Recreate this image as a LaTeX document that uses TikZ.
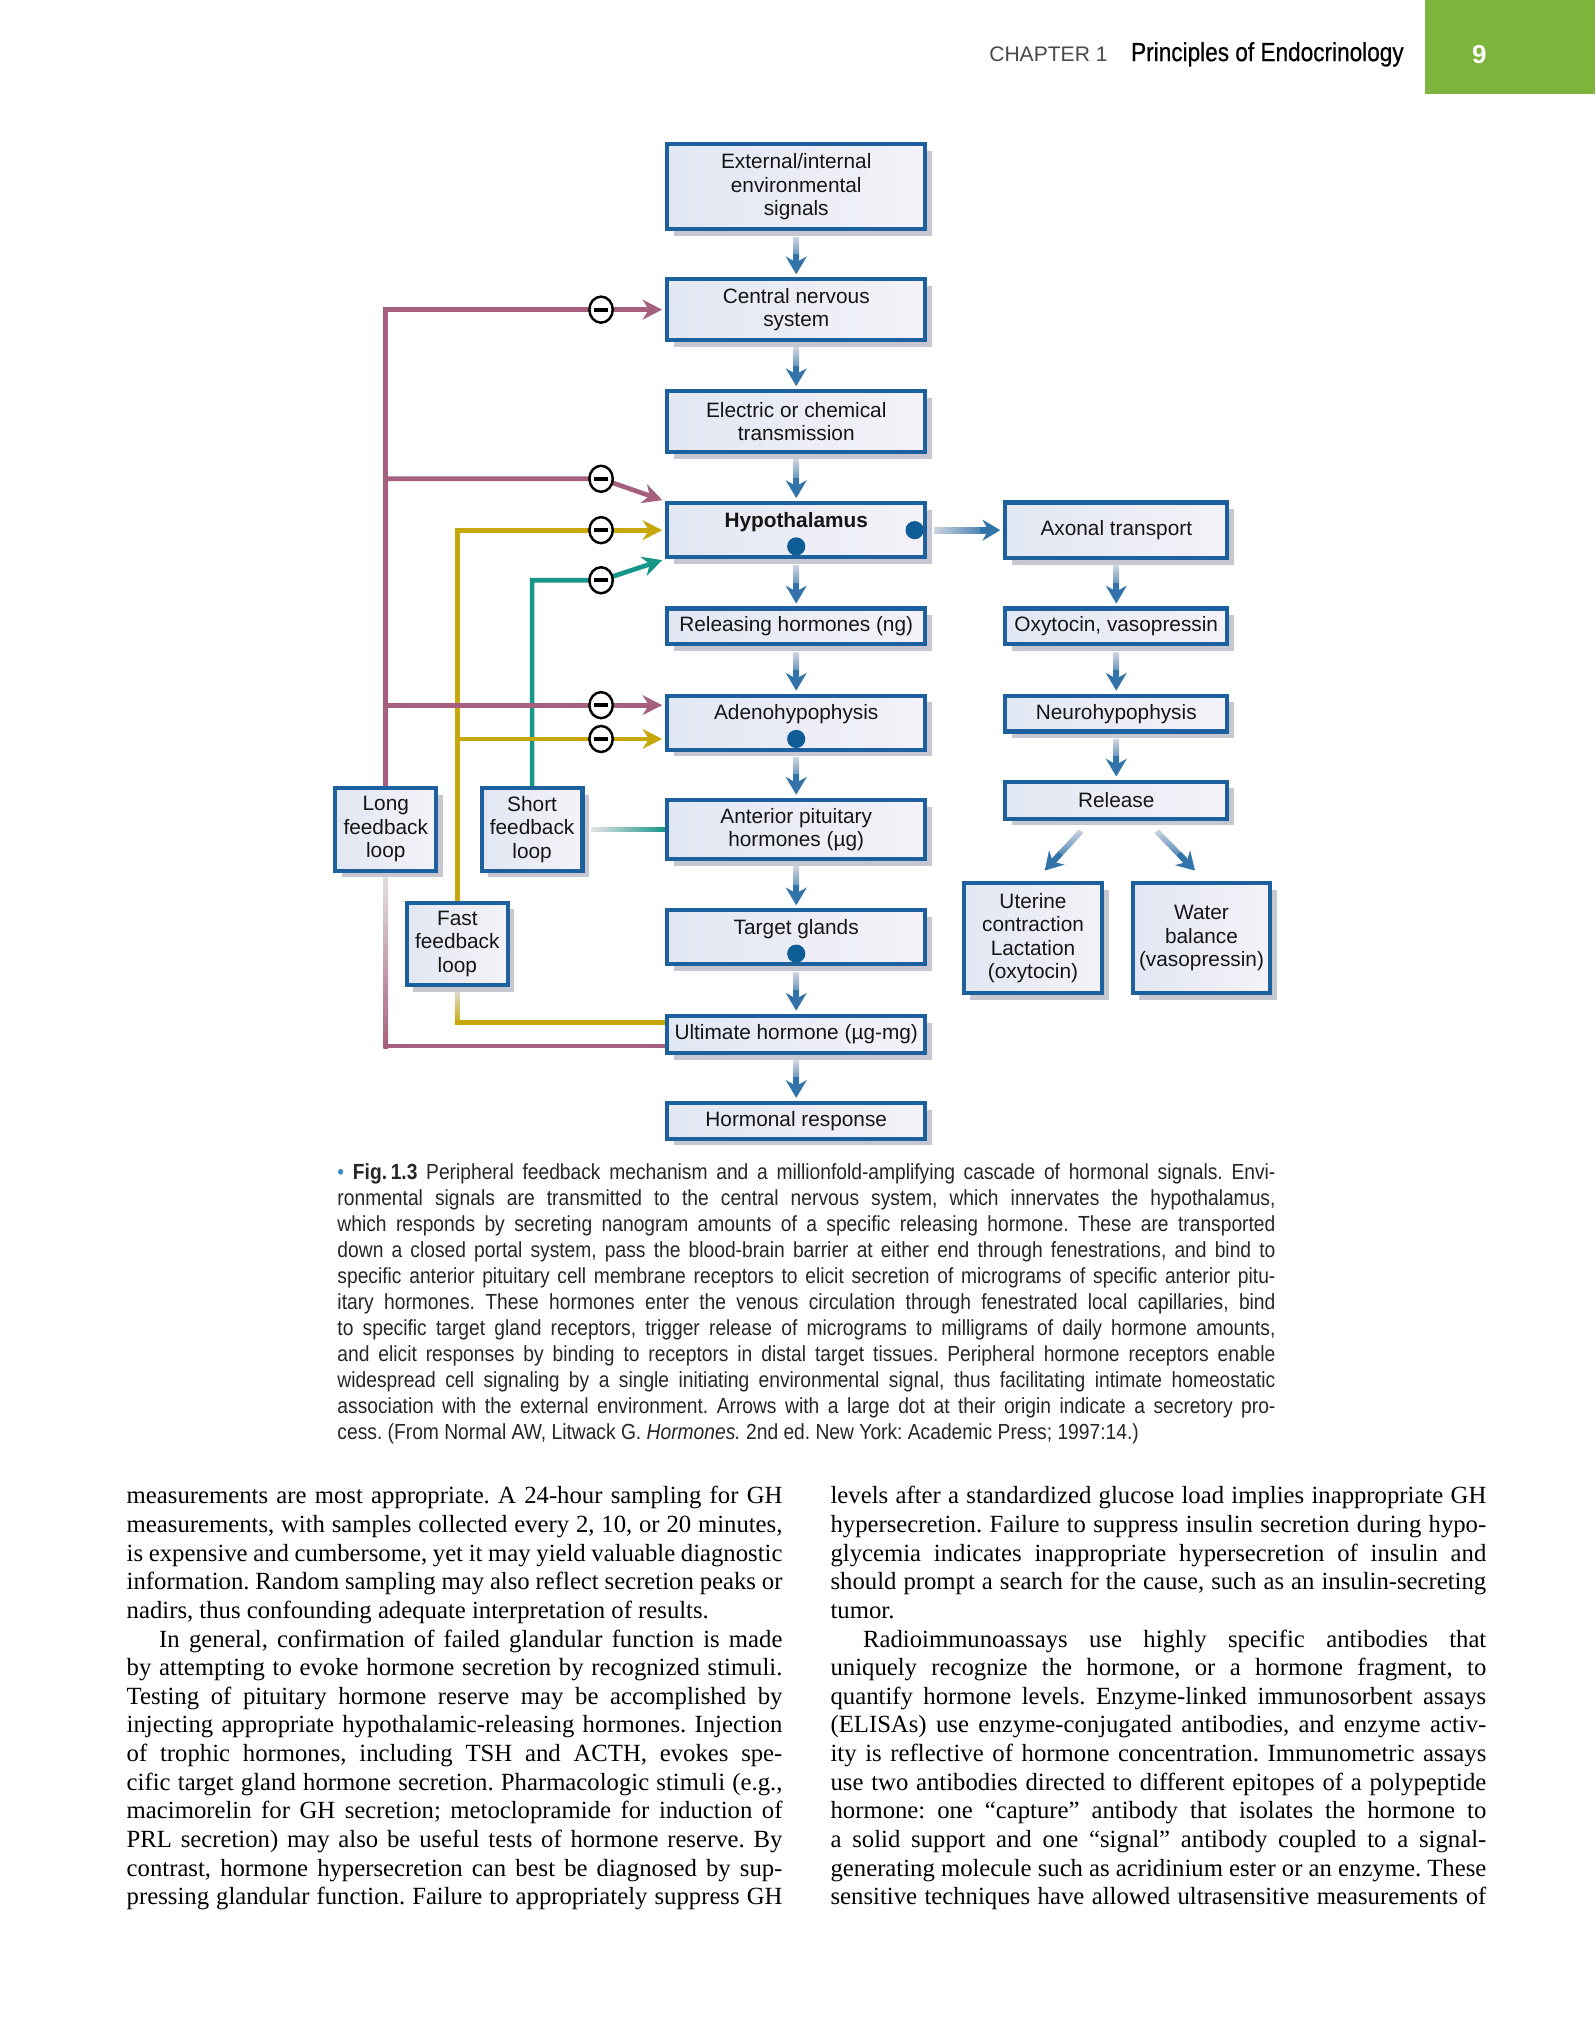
\documentclass[tikz,border=0pt]{standalone}
\usepackage{fontspec}
\setmainfont{Liberation Serif}
\newfontfamily\boxfont{Liberation Sans}
\newfontfamily\capfont[FakeStretch=0.88]{Liberation Sans}
\newfontfamily\titlefont[FakeStretch=0.86,FakeBold=0.6]{Liberation Sans}
\usetikzlibrary{shadows,shapes.geometric,arrows.meta,calc,backgrounds}
\frenchspacing

\definecolor{boxBorder}{HTML}{1D609E}
\definecolor{boxA}{HTML}{E1E7F3}
\definecolor{boxB}{HTML}{F5F2F8}
\definecolor{shadowc}{HTML}{C6C7D1}
\definecolor{arrowBlue}{HTML}{3273AA}
\definecolor{shaftTop}{HTML}{CDD5E0}
\definecolor{mauve}{HTML}{A6607F}
\definecolor{yel}{HTML}{C8A70A}
\definecolor{tealc}{HTML}{17968A}
\definecolor{dotc}{HTML}{0F5D97}
\definecolor{greenc}{HTML}{7DB43B}
\definecolor{hdrgray}{HTML}{4A4A4A}
\definecolor{bulletc}{HTML}{3A8CCB}
\definecolor{captext}{HTML}{262626}
\definecolor{boxtext}{HTML}{151515}

\newcommand\jl[1]{\hbox to 252pt{\frenchspacing\spaceskip=.25em plus 1.5em minus .1em\relax #1}}
\newcommand\jlast[1]{\hbox to 252pt{\frenchspacing #1\hfil}}
\newcommand\cj[1]{\hbox to 360.5pt{\frenchspacing\spaceskip=.28em plus 1.5em minus .1em\relax #1}}
\newcommand\clast[1]{\hbox to 360.5pt{\frenchspacing #1\hfil}}

\newcommand\varr[2]{%
  \shade[top color=shaftTop, bottom color=arrowBlue] ($(#1.south)+(-2.2,4.5)$) rectangle ($(#2.north)+(2.2,-10)$);
  \draw[bhead] ($(#2.north)+(0,-18)$) -- ($(#2.north)+(0,-2.3)$);
}

\tikzset{
  gbox/.style={rectangle, draw=boxBorder, line width=1.6pt, left color=boxA, right color=boxB,
    inner sep=0pt, align=center, text=boxtext, font=\boxfont\fontsize{8}{9}\selectfont,
    drop shadow={shadow xshift=2.5pt, shadow yshift=-2.6pt, opacity=1, fill=shadowc}},
  mainbox/.style={gbox, minimum width=99.25pt},
  rbox/.style={gbox, minimum width=85.25pt},
  fbbox/.style={gbox, minimum width=38.75pt, minimum height=31.75pt},
  lbl/.style={inner sep=0pt, text=boxtext, font=\boxfont\fontsize{8}{9}\selectfont},
  sdot/.style={circle, fill=dotc, inner sep=0pt, minimum size=7pt},
  negc/.style={ellipse, draw=black, line width=0.95pt, fill=white, minimum width=9pt,
    minimum height=10pt, inner sep=0pt,
    path picture={\draw[line width=1.5pt] ([xshift=-2.7pt]path picture bounding box.center) -- ([xshift=2.7pt]path picture bounding box.center);}},
  fbarrow/.style={line width=1.8pt, shorten >=1.1pt, -{Stealth[length=7.5pt,width=7.6pt,inset=2.4pt]}},
  fbline/.style={line width=1.8pt},
  bhead/.style={draw=arrowBlue, line width=2.2pt, -{Stealth[length=6.8pt,width=8pt,inset=2.2pt]}},
}

\begin{document}
\begin{tikzpicture}[x=0.5pt,y=-0.5pt]
\useasboundingbox (0,0) rectangle (1226,1568);

% header
\fill[greenc] (1095,0) rectangle (1226,72);
\node[anchor=base west, inner sep=0pt, text=hdrgray, font=\boxfont\fontsize{8.1}{10}\selectfont] (chap) at (760,47) {CHAPTER 1};
\node[anchor=base west, inner sep=0pt, text=black, font=\titlefont\fontsize{10.1}{12}\selectfont] (title) at (869,47) {Principles of Endocrinology};
\node[inner sep=0pt, text=white, font=\boxfont\bfseries\fontsize{10}{12}\selectfont] (pg) at (1137,42) {9};

% main column
\node[mainbox, minimum height=32.75pt] (ext) at (612,143.5) {External/internal\\environmental\\signals};
\node[mainbox, minimum height=23.25pt] (cns) at (612,238) {Central nervous\\system};
\node[mainbox, minimum height=23.25pt] (ect) at (612,324) {Electric or chemical\\transmission};
\node[mainbox, minimum height=20.75pt] (hyp) at (612,407.5) {};
\node[lbl, font=\boxfont\bfseries\fontsize{8}{9}\selectfont] (hypt) at (612,401) {Hypothalamus};
\node[sdot] (hypdot) at (612,420) {};
\node[sdot] (hypR) at (703,407.5) {};
\node[mainbox, minimum height=13.75pt] (relh) at (612,481.5) {Releasing hormones (ng)};
\node[mainbox, minimum height=20.75pt] (adeno) at (612,555.5) {};
\node[lbl] (adenot) at (612,549) {Adenohypophysis};
\node[sdot] (adot) at (612,568) {};
\node[mainbox, minimum height=22.75pt] (ant) at (612,637.5) {Anterior pituitary\\hormones (µg)};
\node[mainbox, minimum height=20.75pt] (tgt) at (612,720.5) {};
\node[lbl] (tgtt) at (612,714) {Target glands};
\node[sdot] (tdot) at (612,733) {};
\node[mainbox, minimum height=14.25pt] (ult) at (612,795) {Ultimate hormone (µg-mg)};
\node[mainbox, minimum height=13.75pt] (resp) at (612,861.5) {Hormonal response};

% right column
\node[rbox, minimum height=21.25pt] (axo) at (858,407.5) {Axonal transport};
\node[rbox, minimum height=13.75pt] (oxy) at (858,481.5) {Oxytocin, vasopressin};
\node[rbox, minimum height=13.75pt] (neuro) at (858,548.5) {Neurohypophysis};
\node[rbox, minimum height=14.25pt] (rls) at (858,615) {Release};
\node[gbox, minimum width=53.25pt, minimum height=42.25pt] (ut) at (794,721) {Uterine\\contraction\\Lactation\\(oxytocin)};
\node[gbox, minimum width=52.75pt, minimum height=42.25pt] (wat) at (923.5,721) {Water\\balance\\(vasopressin)};

% feedback loop boxes
\node[fbbox] (long) at (296.5,637.5) {Long\\feedback\\loop};
\node[fbbox] (short) at (409,637.5) {Short\\feedback\\loop};
\node[fbbox] (fast) at (351.5,725.5) {Fast\\feedback\\loop};

% inhibition marks
\node[negc] (m1) at (462,238) {};
\node[negc] (m2) at (462,368) {};
\node[negc] (m3) at (462,407.5) {};
\node[negc] (m4) at (462,446) {};
\node[negc] (m5) at (462,542) {};
\node[negc] (m6) at (462,568) {};

\begin{pgfonlayer}{background}
\fill[white] (0,0) rectangle (1226,1568);
% short loop (teal)
\draw[fbarrow, tealc] (short.north) |- (m4.center) -- (hyp.south west);
\shade[left color=gray!22, right color=tealc] ($(short.east)+(5,-1.8)$) rectangle ($(ant.west)+(0,1.8)$);
% fast loop (yellow)
\draw[fbarrow, yel] (fast.north) |- (hyp.west);
\draw[fbarrow, yel] (fast.north) |- ($(adeno.west)+(0,12.5)$);
\coordinate (fb) at (351.5,786);
\shade[top color=gray!22, bottom color=yel] ($(fast.south)+(-1.8,0)$) rectangle ($(fb)+(1.8,1.8)$);
\draw[fbline, yel] ($(fb)+(-1.8,0)$) -- (fb -| ult.west);
% long loop (mauve)
\draw[fbarrow, mauve] (long.north) |- (cns.west);
\draw[fbarrow, mauve] (long.north) |- (m2.center) -- (hyp.north west);
\draw[fbarrow, mauve] (long.north) |- ($(adeno.west)+(0,-13.5)$);
\coordinate (lb) at (296.5,804);
\shade[top color=gray!22, bottom color=mauve] ($(long.south)+(-1.8,0)$) rectangle ($(lb)+(1.8,1.8)$);
\draw[fbline, mauve] ($(lb)+(-1.8,0)$) -- (lb -| ult.west);
\end{pgfonlayer}

% blue cascade arrows
\varr{ext}{cns}
\varr{cns}{ect}
\varr{ect}{hyp}
\varr{hyp}{relh}
\varr{relh}{adeno}
\varr{adeno}{ant}
\varr{ant}{tgt}
\varr{tgt}{ult}
\varr{ult}{resp}
\varr{axo}{oxy}
\varr{oxy}{neuro}
\varr{neuro}{rls}
% hypothalamus -> axonal transport
\shade[left color=shaftTop, right color=arrowBlue] ($(hyp.east)+(5,-2.2)$) rectangle ($(axo.west)+(-10,2.2)$);
\draw[bhead] ($(axo.west)+(-18,0)$) -- ($(axo.west)+(-2.3,0)$);
% release -> uterine / water
\coordinate (u1) at ($(rls.south)+(-27,8)$);
\coordinate (u2) at ($(ut.north)+(9,-8)$);
\coordinate (u3) at ($(u2)!5pt!(u1)$);
\shade[top color=shaftTop, bottom color=arrowBlue] ($(u1)!1.1pt!90:(u3)$) -- ($(u1)!1.1pt!-90:(u3)$) -- ($(u3)!1.1pt!90:(u1)$) -- ($(u3)!1.1pt!-90:(u1)$) -- cycle;
\draw[bhead] ($(u2)!9pt!(u1)$) -- (u2);
\coordinate (w1) at ($(rls.south)+(31,8)$);
\coordinate (w2) at ($(wat.north)+(-5,-8)$);
\coordinate (w3) at ($(w2)!5pt!(w1)$);
\shade[top color=shaftTop, bottom color=arrowBlue] ($(w1)!1.1pt!90:(w3)$) -- ($(w1)!1.1pt!-90:(w3)$) -- ($(w3)!1.1pt!90:(w1)$) -- ($(w3)!1.1pt!-90:(w1)$) -- cycle;
\draw[bhead] ($(w2)!9pt!(w1)$) -- (w2);

% caption
\node[anchor=base west, inner sep=0pt, text=captext, font=\capfont\fontsize{8.4}{10}\selectfont] (caption) at (259,906.5) {\vtop{\baselineskip=10pt
\cj{\textcolor{bulletc}{•}\ \textbf{Fig.\,1.3} Peripheral feedback mechanism and a millionfold-amplifying cascade of hormonal signals. Envi-}
\cj{ronmental signals are transmitted to the central nervous system, which innervates the hypothalamus,}
\cj{which responds by secreting nanogram amounts of a specific releasing hormone. These are transported}
\cj{down a closed portal system, pass the blood-brain barrier at either end through fenestrations, and bind to}
\cj{specific anterior pituitary cell membrane receptors to elicit secretion of micrograms of specific anterior pitu-}
\cj{itary hormones. These hormones enter the venous circulation through fenestrated local capillaries, bind}
\cj{to specific target gland receptors, trigger release of micrograms to milligrams of daily hormone amounts,}
\cj{and elicit responses by binding to receptors in distal target tissues. Peripheral hormone receptors enable}
\cj{widespread cell signaling by a single initiating environmental signal, thus facilitating intimate homeostatic}
\cj{association with the external environment. Arrows with a large dot at their origin indicate a secretory pro-}
\clast{cess. (From Normal AW, Litwack G. \textit{Hormones.} 2nd ed. New York: Academic Press; 1997:14.)}
}};

% body text, left column
\node[anchor=base west, inner sep=0pt, text=black, font=\fontsize{9.5}{11}\selectfont] (bodyL) at (97,1156) {\vtop{\baselineskip=11pt
\jl{measurements are most appropriate. A 24-hour sampling for GH}
\jl{measurements, with samples collected every 2, 10, or 20 minutes,}
\jl{is expensive and cumbersome, yet it may yield valuable diagnostic}
\jl{information. Random sampling may also reflect secretion peaks or}
\jlast{nadirs, thus confounding adequate interpretation of results.}
\jl{\hskip12.5pt In general, confirmation of failed glandular function is made}
\jl{by attempting to evoke hormone secretion by recognized stimuli.}
\jl{Testing of pituitary hormone reserve may be accomplished by}
\jl{injecting appropriate hypothalamic-releasing hormones. Injection}
\jl{of trophic hormones, including TSH and ACTH, evokes spe-}
\jl{cific target gland hormone secretion. Pharmacologic stimuli (e.g.,}
\jl{macimorelin for GH secretion; metoclopramide for induction of}
\jl{PRL secretion) may also be useful tests of hormone reserve. By}
\jl{contrast, hormone hypersecretion can best be diagnosed by sup-}
\jl{pressing glandular function. Failure to appropriately suppress GH}
}};

% body text, right column
\node[anchor=base west, inner sep=0pt, text=black, font=\fontsize{9.5}{11}\selectfont] (bodyR) at (638,1156) {\vtop{\baselineskip=11pt
\jl{levels after a standardized glucose load implies inappropriate GH}
\jl{hypersecretion. Failure to suppress insulin secretion during hypo-}
\jl{glycemia indicates inappropriate hypersecretion of insulin and}
\jl{should prompt a search for the cause, such as an insulin-secreting}
\jlast{tumor.}
\jl{\hskip12.5pt Radioimmunoassays use highly specific antibodies that}
\jl{uniquely recognize the hormone, or a hormone fragment, to}
\jl{quantify hormone levels. Enzyme-linked immunosorbent assays}
\jl{(ELISAs) use enzyme-conjugated antibodies, and enzyme activ-}
\jl{ity is reflective of hormone concentration. Immunometric assays}
\jl{use two antibodies directed to different epitopes of a polypeptide}
\jl{hormone: one “capture” antibody that isolates the hormone to}
\jl{a solid support and one “signal” antibody coupled to a signal-}
\jl{generating molecule such as acridinium ester or an enzyme. These}
\jl{sensitive techniques have allowed ultrasensitive measurements of}
}};
\end{tikzpicture}
\end{document}
